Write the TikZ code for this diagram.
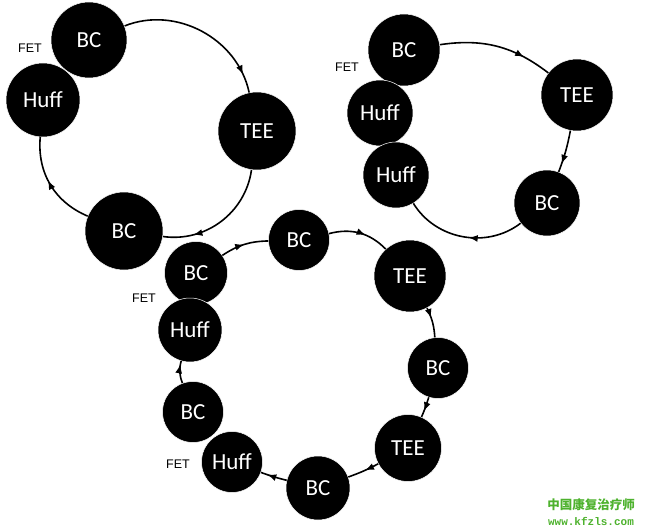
\documentclass[tikz,border=0pt]{standalone}
\usepackage{fontspec}
\setmainfont{Carlito}
\newfontfamily\fetfont{Liberation Sans}
\newfontfamily\cjkfont{Noto Sans CJK SC}
\newfontfamily\urlfont{Liberation Mono}
\usetikzlibrary{arrows.meta,decorations.markings}
\definecolor{wmgreen}{RGB}{78,178,46}

\begin{document}
\begin{tikzpicture}[x=1pt,y=-1pt,
  stage/.style={circle,fill=black,draw=white,line width=0.5pt,text=white,inner sep=0pt,minimum size=#1,font=\fontsize{23}{25}\selectfont},
  fet/.style={font=\fetfont\fontsize{12.5}{14}\selectfont},
  flow/.style={line width=1.6pt,postaction={decorate,decoration={markings,mark=at position #1 with {\arrow{Latex[length=9pt,width=7pt]}}}}}]
\useasboundingbox (0,0) rectangle (645,532);

% Upper left cycle
\node[stage=76] (bcA) at (89,40) {BC};
\node[stage=74] (huffA) at (43,100) {Huff};
\node[stage=78] (teeA) at (257,131) {TEE};
\node[stage=78] (bcB) at (124,231) {BC};
\node[fet] (fetA) at (30,48) {FET};
\draw[flow=0.88] (bcA) to[bend left=50] (teeA);
\draw[flow=0.75] (teeA) to[bend left=45] (bcB);
\draw[flow=0.55] (bcB) to[bend left=36] (huffA);

% Upper right cycle
\node[stage=72] (bcC) at (404,50) {BC};
\node[stage=66] (huffB) at (380,113) {Huff};
\node[stage=66] (huffC) at (396,175) {Huff};
\node[stage=72] (teeB) at (577,95) {TEE};
\node[stage=66] (bcD) at (547,203) {BC};
\node[fet] (fetB) at (347,67) {FET};
\draw[flow=0.75] (bcC) to[bend left=23] (teeB);
\draw[flow=0.8] (teeB) to[bend left=5] (bcD);
\draw[flow=0.45] (bcD) to[bend left=48] (huffC);

% Lower cycle
\node[stage=63] (bcE) at (196,273) {BC};
\node[stage=64] (huffD) at (190,330) {Huff};
\node[stage=61] (bcF) at (299,240) {BC};
\node[stage=72] (teeC) at (410,276) {TEE};
\node[stage=61] (bcG) at (438,368) {BC};
\node[stage=67] (teeD) at (408,448) {TEE};
\node[stage=64] (bcH) at (318,488) {BC};
\node[stage=61] (huffE) at (232,462) {Huff};
\node[stage=61] (bcI) at (193,412) {BC};
\node[fet] (fetC) at (144,298) {FET};
\node[fet] (fetD) at (178,464) {FET};
\draw[flow=0.5] (bcE) to[bend left=16] (bcF);
\draw[flow=0.6] (bcF) to[bend left=30] (teeC);
\draw[flow=0.35] (teeC) to[bend left=11] (bcG);
\draw[flow=0.7] (bcG) to[bend left=3] (teeD);
\draw[flow=0.45] (teeD) to[bend left=4] (bcH);
\draw[flow=0.75] (bcH) to[bend left=3] (huffE);
\draw[flow=0.85] (bcI) to[bend left=18] (huffD);

% Watermark
\node[text=wmgreen,font=\cjkfont\bfseries\fontsize{12.5}{14}\selectfont] (wmA) at (591,505) {中国康复治疗师};
\node[text=wmgreen,font=\urlfont\bfseries\fontsize{11}{13}\selectfont] (wmB) at (591,521) {www.kfzls.com};
\end{tikzpicture}
\end{document}
